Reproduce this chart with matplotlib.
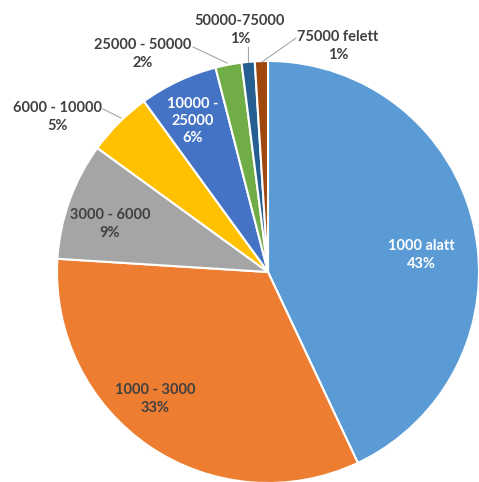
import matplotlib.pyplot as plt

# Jövedelem kategóriák és arányuk (%)
categories = ['1000 alatt', '1000 - 3000', '3000 - 6000', '6000 - 10000',
              '10000 -\n25000', '25000 - 50000', '50000-75000', '75000 felett']
shares = [43, 33, 9, 5, 6, 2, 1, 1]
colors = ['#5B9BD5', '#ED7D31', '#A5A5A5', '#FFC000',
          '#4472C4', '#70AD47', '#255E91', '#9E480E']

W, H = 479, 482
fig = plt.figure(figsize=(W / 100, H / 100), dpi=100)
ax = fig.add_axes([0, 0, 1, 1])


def py(y):
    # pixel row (from top) -> data y
    return H - y


wedges, _ = ax.pie(shares, colors=colors, startangle=90, counterclock=False,
                   center=(268, py(272)), radius=211, frame=True,
                   wedgeprops=dict(edgecolor='white', linewidth=1.5))
ax.set_xlim(0, W)
ax.set_ylim(0, H)
ax.set_aspect('equal')
ax.axis('off')

font = dict(family=['Lato', 'DejaVu Sans'], fontweight='bold', fontsize=10.5,
            ha='center', va='center', linespacing=1.3)
dark = '#404040'

# label positions (pixel coords) and colours
label_pos = [(421, 255), (155, 399), (110, 224), (58, 117),
             (193, 121), (143, 54), (240, 30), (338, 46)]
label_col = ['white', dark, dark, dark, 'white', dark, dark, dark]

for cat, val, (x, y), c in zip(categories, shares, label_pos, label_col):
    ax.text(x, py(y), f'{cat}\n{val}%', color=c, **font)

# leader lines for the outside labels
leaders = [((103, 109), (121, 118)), ((193, 47), (227, 63)),
           ((248, 47), (248, 62)), ((296, 38), (262, 62))]
for (x0, y0), (x1, y1) in leaders:
    ax.plot([x0, x1], [py(y0), py(y1)], color='#A6A6A6', lw=0.8)

fig.savefig('out.png', dpi=100)
